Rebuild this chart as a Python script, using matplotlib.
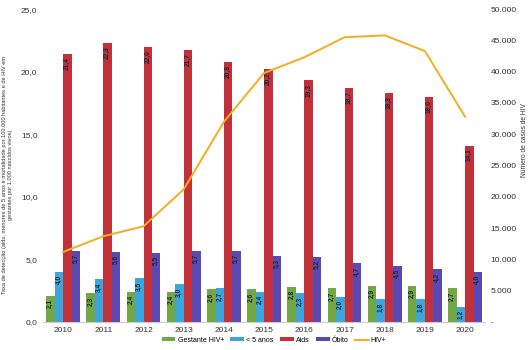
import matplotlib
matplotlib.use("Agg")
import matplotlib.pyplot as plt
import numpy as np

plt.rcParams['font.family'] = ['Liberation Sans', 'DejaVu Sans']

years = ["2010", "2011", "2012", "2013", "2014", "2015", "2016", "2017", "2018", "2019", "2020"]
gestante = [2.1, 2.3, 2.4, 2.4, 2.6, 2.6, 2.8, 2.7, 2.9, 2.9, 2.7]
menores5 = [4.0, 3.4, 3.5, 3.0, 2.7, 2.4, 2.3, 2.0, 1.8, 1.8, 1.2]
aids = [21.4, 22.3, 22.0, 21.7, 20.8, 20.2, 19.3, 18.7, 18.3, 18.0, 14.1]
obito = [5.7, 5.6, 5.5, 5.7, 5.7, 5.3, 5.2, 4.7, 4.5, 4.2, 4.0]
hiv = [11200, 13700, 15300, 21200, 32000, 39800, 42300, 45500, 45800, 43300, 32800]

series = [
    ("Gestante HIV+", gestante, "#72a843"),
    ("< 5 anos", menores5, "#3aa6dd"),
    ("Aids", aids, "#c2303a"),
    ("Óbito", obito, "#5a49b3"),
]

fig = plt.figure(figsize=(5.32, 3.5), dpi=100)
ax = fig.add_axes([0.081, 0.08, 0.831, 0.894])
x = np.arange(len(years))
w = 0.21

for i, (name, vals, col) in enumerate(series):
    pos = x + (i - 1.5) * w
    bars = ax.bar(pos, vals, width=w, color=col, label=name, zorder=2)
    for b, v in zip(bars, vals):
        ax.text(b.get_x() + b.get_width() / 2, v - 0.25, f"{v:.1f}".replace(".", ","),
                rotation=90, ha="center", va="top", fontsize=4.8,
                fontweight="bold", color="#1e2a3a", zorder=3)

ax.set_xlim(-0.5, len(years) - 0.5)
ax.set_ylim(0, 25)
ax.set_yticks(np.arange(0, 25.1, 5))
ax.set_yticklabels([f"{t:.1f}".replace(".", ",") for t in np.arange(0, 25.1, 5)])
ax.set_xticks(x)
ax.set_xticklabels(years)
ax.tick_params(axis="both", length=0, labelsize=6, colors="#333333")
ax.tick_params(axis="y", pad=4)
for s in ["top", "right", "left"]:
    ax.spines[s].set_visible(False)
ax.spines["bottom"].set_color("#cccccc")
ax.set_ylabel("Taxa de detecção (aids, menores de 5 anos e mortalidade por 100.000 habitantes e de HIV em\n"
              "gestantes por 1.000 nascidos vivos)", fontsize=4.1, color="#333333", linespacing=1.3)
ax.yaxis.set_label_coords(-0.068, 0.47)

ax2 = ax.twinx()
line, = ax2.plot(x, hiv, color="#f5ac1e", lw=1.4, label="HIV+", zorder=4)
ax2.set_ylim(0, 50000)
ticks2 = np.arange(0, 50001, 5000)
ax2.set_yticks(ticks2)
ax2.set_yticklabels(["-"] + [f"{int(t):,}".replace(",", ".") for t in ticks2[1:]])
ax2.tick_params(axis="y", length=0, labelsize=6, colors="#333333", pad=4)
for s in ["top", "right", "left", "bottom"]:
    ax2.spines[s].set_visible(False)
ax2.set_ylabel("Número de casos de HIV", fontsize=4.8, color="#333333")
ax2.yaxis.set_label_coords(1.082, 0.58)

handles, labels = ax.get_legend_handles_labels()
handles.append(line)
labels.append("HIV+")
fig.legend(handles, labels, loc="lower center", bbox_to_anchor=(0.515, 0.0), ncol=5,
           frameon=False, fontsize=5, handlelength=2.0, handleheight=0.5,
           columnspacing=0.9, handletextpad=0.3)

fig.savefig("out.png", dpi=100, facecolor="white")
